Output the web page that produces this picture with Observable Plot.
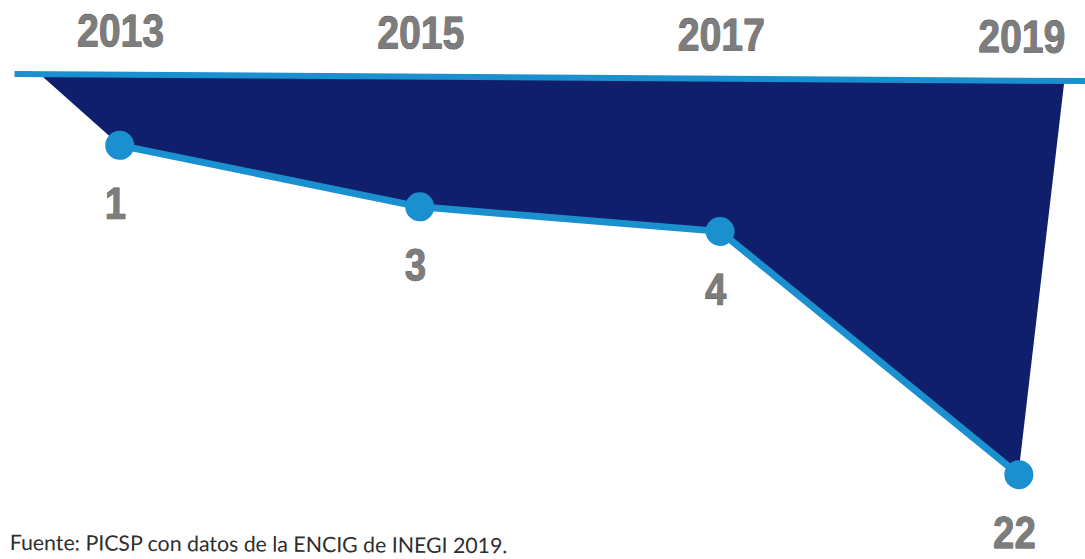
<!DOCTYPE html>
<html>
<head>
<meta charset="utf-8">
<script src="https://cdn.jsdelivr.net/npm/d3@7"></script>
<script src="https://cdn.jsdelivr.net/npm/@observablehq/plot@0.6"></script>
<style>
  html, body { margin: 0; padding: 0; background: #fff; overflow: hidden; }
  #chart svg { display: block; transform: rotate(0.38deg); transform-origin: 542px 280px; }
</style>
</head>
<body>
<div id="chart"></div>
<script>
// Data
const years = [2013, 2015, 2017, 2019];
const values = [1, 3, 4, 22];
const areaEdgeYears = [2012.465, 2019.289]; // where the shaded shape meets the baseline
const baselineSpan = [2012.30, 2019.44];
const caption = "Fuente: PICSP con datos de la ENCIG de INEGI 2019.";

const points = years.map((year, i) => ({year, v: values[i]}));
const areaData = [
  {year: areaEdgeYears[0], v: 0},
  ...points,
  {year: areaEdgeYears[1], v: 0}
];

const navy = "#0f1f6b";
const lightBlue = "#1b90cf";
const numFont = "'Liberation Sans', Arial, sans-serif";

const chart = Plot.plot({
  width: 1085,
  height: 559,
  margin: 0,
  style: {background: "#ffffff"},
  x: {type: "linear", domain: [2012.212, 2019.435], axis: null},
  y: {type: "pow", exponent: 0.556, domain: [0, 22], range: [77, 471], axis: null},
  marks: [
    Plot.areaY(areaData, {x: "year", y: "v", fill: navy}),
    Plot.ruleY([0], {x1: baselineSpan[0], x2: baselineSpan[1], stroke: lightBlue, strokeWidth: 6}),
    Plot.line(points, {x: "year", y: "v", stroke: lightBlue, strokeWidth: 7}),
    Plot.dot(points, {x: "year", y: "v", r: 14.5, fill: lightBlue, stroke: "none"}),
    Plot.text(points, {
      x: "year", y: "v", text: d => String(d.v), dy: 59, dx: -4,
      lineAnchor: "middle",
      fontSize: 45, fontWeight: "bold", fontFamily: numFont,
      fill: "#7d7d7d", stroke: "#505050", strokeWidth: 0.9,
      className: "narrow"
    }),
    Plot.text(points, {
      x: "year", text: d => String(d.year), frameAnchor: "top", lineAnchor: "middle", dy: 34,
      fontSize: 46, fontWeight: "bold", fontFamily: numFont,
      fill: "#7d7d7d", stroke: "#505050", strokeWidth: 0.9,
      className: "narrow"
    }),
    Plot.text([caption], {
      text: d => d, frameAnchor: "bottom-left", textAnchor: "start", lineAnchor: "bottom",
      dx: 11, dy: -6, fontSize: 21.3, fontFamily: "Lato, 'Open Sans', sans-serif",
      fill: "#2e2e2e"
    })
  ]
});

// condense the bold numerals horizontally, like the reference's narrow typeface
chart.querySelectorAll(".narrow text").forEach(t => {
  const tr = t.getAttribute("transform");
  if (tr) {
    t.setAttribute("transform", tr + " scale(0.85,1)");
  } else {
    const x = +t.getAttribute("x") || 0, y = +t.getAttribute("y") || 0;
    t.removeAttribute("x"); t.removeAttribute("y");
    t.setAttribute("transform", `translate(${x},${y}) scale(0.85,1)`);
  }
});
document.getElementById("chart").appendChild(chart);
</script>
</body>
</html>
